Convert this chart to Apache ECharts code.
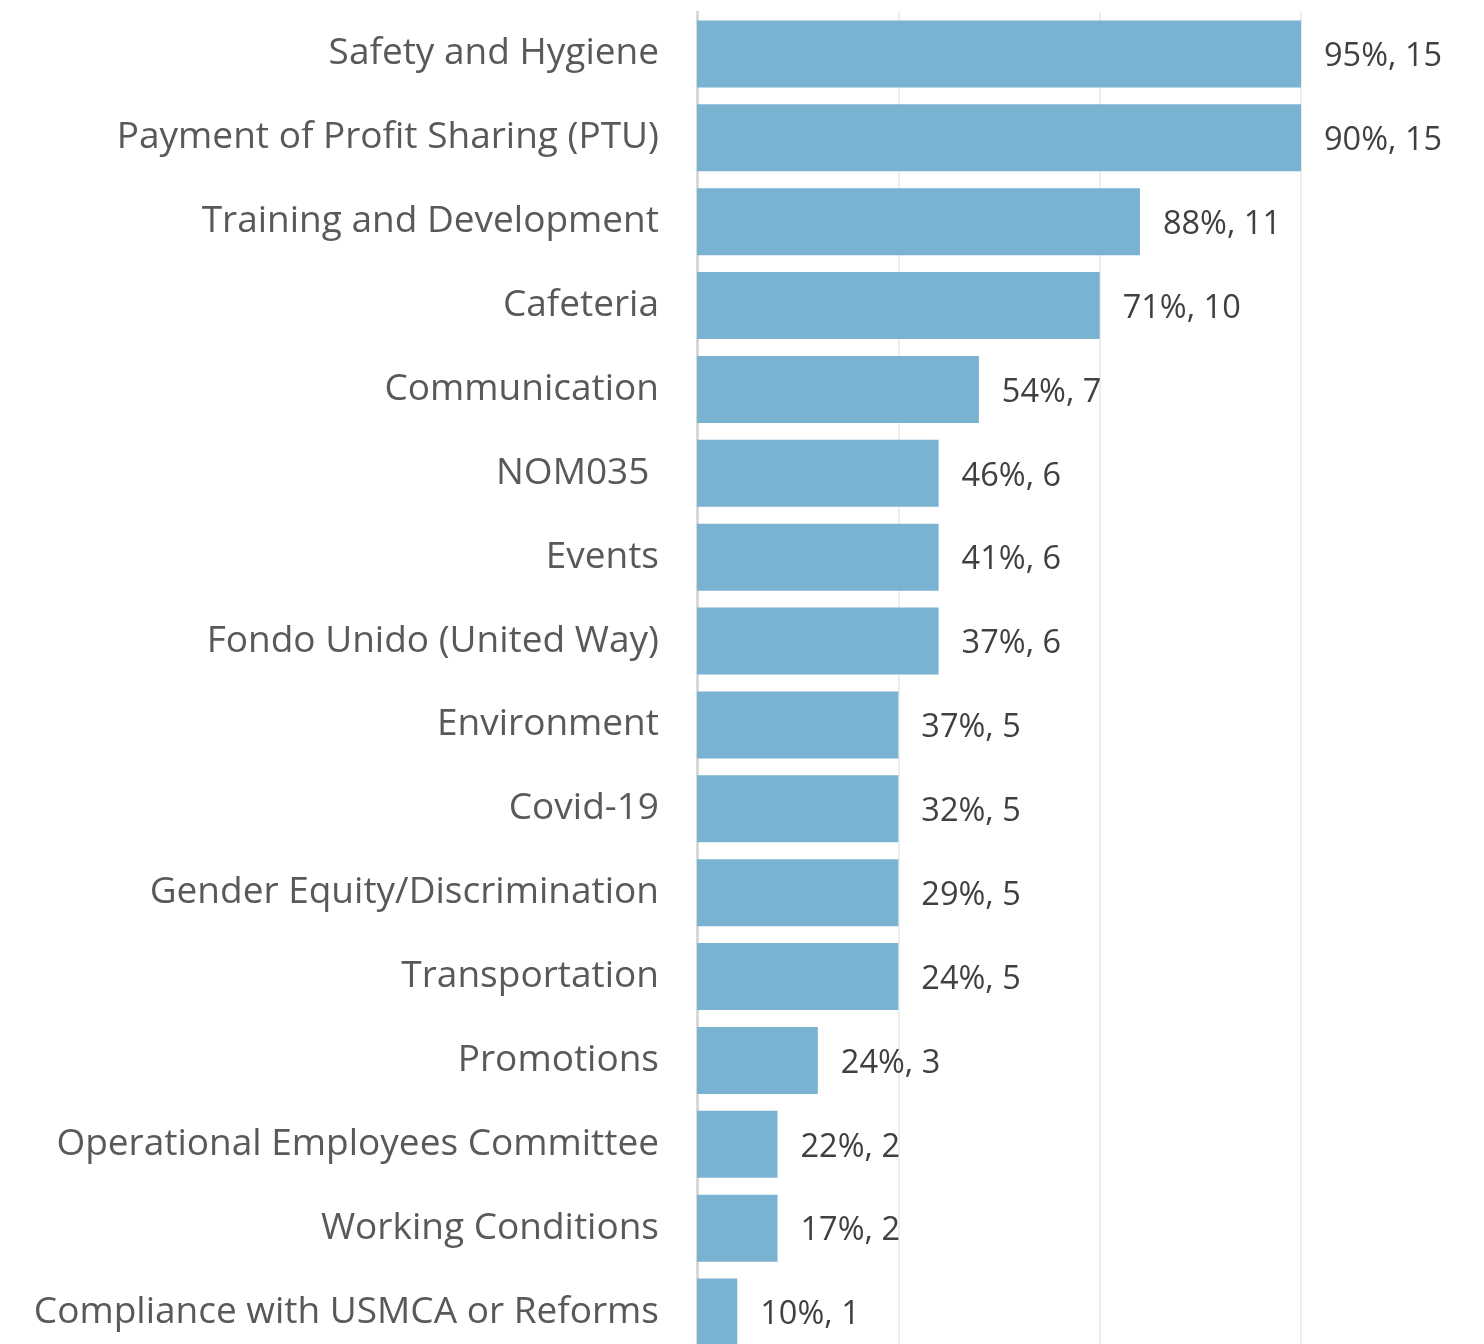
<!DOCTYPE html>
<html>
<head>
<meta charset="utf-8">
<script src="https://cdn.jsdelivr.net/npm/echarts@6/dist/echarts.min.js"></script>
<style>
  html, body { margin: 0; padding: 0; background: #ffffff; }
  #chart { width: 1484px; height: 1344px; }
</style>
</head>
<body>
<div id="chart"></div>
<script>
// Topics, ordered from most to least mentioned
const categories = [
  "Safety and Hygiene",
  "Payment of Profit Sharing (PTU)",
  "Training and Development",
  "Cafeteria",
  "Communication",
  "NOM035 ",
  "Events",
  "Fondo Unido (United Way)",
  "Environment",
  "Covid-19",
  "Gender Equity/Discrimination",
  "Transportation",
  "Promotions",
  "Operational Employees Committee",
  "Working Conditions",
  "Compliance with USMCA or Reforms"
];
// Number of companies per topic (bar length)
const counts = [15, 15, 11, 10, 7, 6, 6, 6, 5, 5, 5, 5, 3, 2, 2, 1];
// Share per topic, in percent (shown in the label)
const percents = [95, 90, 88, 71, 54, 46, 41, 37, 37, 32, 29, 24, 24, 22, 17, 10];
// Value axis ticks
const axisMin = 0, axisMax = 15, axisStep = 5;

const chart = echarts.init(document.getElementById('chart'), null, { renderer: 'canvas' });

chart.setOption({
  animation: false,
  backgroundColor: '#ffffff',
  textStyle: { fontFamily: '"Open Sans", sans-serif' },
  // the plot runs a little past the bottom edge, so the last bar is cut off
  grid: {
    left: 697, right: 183, top: 12, bottom: -10,
    containLabel: false,
    outerBoundsMode: 'none'
  },
  xAxis: {
    type: 'value',
    min: axisMin,
    max: axisMax,
    interval: axisStep,
    axisLabel: { show: false },
    axisLine: { show: false },
    axisTick: { show: false },
    splitLine: { show: true, lineStyle: { color: '#ededed', width: 2 } }
  },
  yAxis: {
    type: 'category',
    inverse: true,
    data: categories,
    axisTick: { show: false },
    axisLine: { show: true, lineStyle: { color: '#d9d9d9', width: 3 } },
    axisLabel: {
      margin: 38,
      color: '#595959',
      fontSize: 37,
      fontFamily: '"Open Sans", sans-serif'
    }
  },
  series: [{
    type: 'bar',
    data: counts,
    barCategoryGap: '20%',
    itemStyle: { color: '#7ab2d2' },
    label: {
      show: true,
      position: 'right',
      distance: 23,
      offset: [0, 3],
      color: '#404040',
      fontSize: 32.5,
      fontFamily: '"Open Sans", sans-serif',
      formatter: p => percents[p.dataIndex] + '%, ' + counts[p.dataIndex]
    }
  }]
});
</script>
</body>
</html>
